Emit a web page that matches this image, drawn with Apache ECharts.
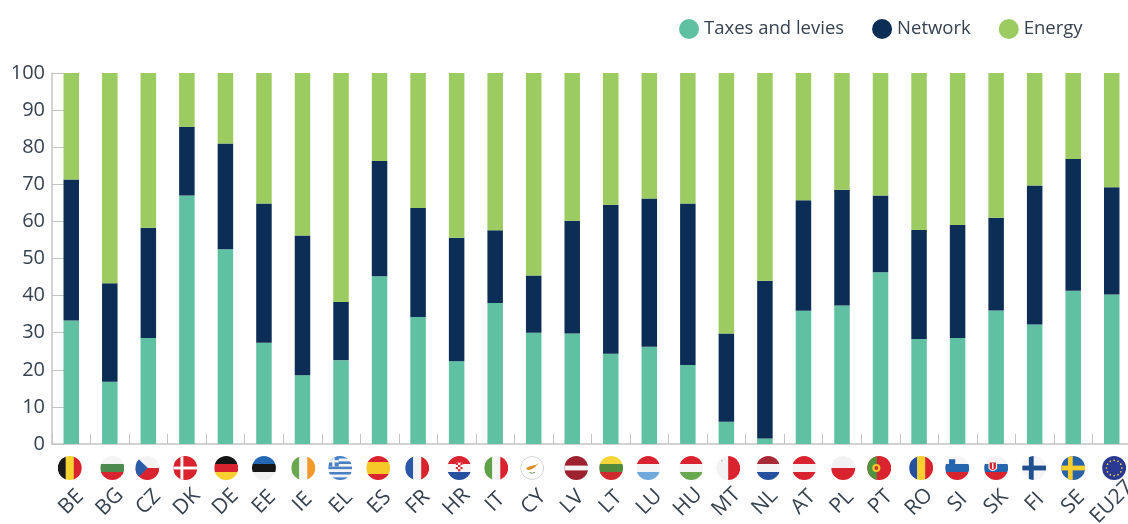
<!DOCTYPE html>
<html>
<head>
<meta charset="utf-8">
<script src="https://cdn.jsdelivr.net/npm/echarts@6/dist/echarts.min.js"></script>
<style>
  html, body { margin: 0; padding: 0; background: #fff; overflow: hidden; }
  #main { width: 1128px; height: 524px; }
</style>
</head>
<body>
<div id="main"></div>
<script>
const categories = ['BE', 'BG', 'CZ', 'DK', 'DE', 'EE', 'IE', 'EL', 'ES', 'FR', 'HR', 'IT', 'CY', 'LV', 'LT', 'LU', 'HU', 'MT', 'NL', 'AT', 'PL', 'PT', 'RO', 'SI', 'SK', 'FI', 'SE', 'EU27'];
const taxes = [33.3, 16.8, 28.6, 67.0, 52.5, 27.3, 18.5, 22.6, 45.2, 34.2, 22.3, 38.0, 30.0, 29.8, 24.3, 26.2, 21.3, 6.0, 1.5, 35.9, 37.3, 46.3, 28.3, 28.6, 36.0, 32.2, 41.3, 40.3];
const network = [38.0, 26.5, 29.7, 18.5, 28.5, 37.5, 37.7, 15.7, 31.1, 29.4, 33.3, 19.6, 15.4, 30.4, 40.2, 40.0, 43.5, 23.8, 42.5, 29.8, 31.2, 20.7, 29.4, 30.4, 25.0, 37.5, 35.5, 28.9];
const energy = [28.7, 56.7, 41.7, 14.5, 19.0, 35.2, 43.8, 61.7, 23.7, 36.4, 44.4, 42.4, 54.6, 39.8, 35.5, 33.8, 35.2, 70.2, 56.0, 34.3, 31.5, 33.0, 42.3, 41.0, 39.0, 30.3, 23.2, 30.8];

const FONT = '"Open Sans", "Noto Sans", sans-serif';
const TEXT = '#364250';
const AXIS = '#c4c4c4';
const RED = '#d9232e';

function hbars(colors) {
  const h = 100 / colors.length;
  return colors.map((c, i) => `<rect x="0" y="${i * h}" width="100" height="${h + 0.5}" fill="${c}"/>`).join('');
}
function vbars(colors) {
  const w = 100 / colors.length;
  return colors.map((c, i) => `<rect x="${i * w}" y="0" width="${w + 0.5}" height="100" fill="${c}"/>`).join('');
}
function nordic(bg, cross) {
  return `<rect width="100" height="100" fill="${bg}"/><rect x="28" width="20" height="100" fill="${cross}"/><rect y="40" width="100" height="20" fill="${cross}"/>`;
}

// 旗帜内容
const flagArt = {
  BE: vbars(['#1a1a1a', '#f6d330', RED]),
  BG: hbars(['#f4f4f4', '#4d8a4f', RED]),
  CZ: hbars(['#f4f4f4', RED]) + '<path d="M0 0 L52 50 L0 100 Z" fill="#2a5ca8"/>',
  DK: `<rect width="100" height="100" fill="${RED}"/><rect x="30" width="12" height="100" fill="#fff"/><rect y="44" width="100" height="12" fill="#fff"/>`,
  DE: hbars(['#161616', RED, '#f7cf2e']),
  EE: hbars(['#2468b4', '#161616', '#f1f1f1']),
  IE: vbars(['#6aa84f', '#f6f6f6', '#f39a2b']),
  EL: hbars(['#4a7fc4', '#f4f4f4', '#4a7fc4', '#f4f4f4', '#4a7fc4', '#f4f4f4', '#4a7fc4', '#f4f4f4', '#4a7fc4'])
    + '<rect width="44" height="44" fill="#4a7fc4"/><rect x="17" width="10" height="44" fill="#f4f4f4"/><rect y="17" width="44" height="10" fill="#f4f4f4"/>',
  ES: hbars([RED, '#f7c928', '#f7c928', RED]),
  FR: vbars(['#2a57a8', '#f4f4f4', RED]),
  HR: hbars([RED, '#f4f4f4', '#24509f'])
    + `<rect x="36" y="28" width="28" height="36" fill="#fff"/><rect x="36" y="28" width="9" height="9" fill="${RED}"/><rect x="55" y="28" width="9" height="9" fill="${RED}"/><rect x="45" y="37" width="10" height="9" fill="${RED}"/><rect x="36" y="46" width="9" height="9" fill="${RED}"/><rect x="55" y="46" width="9" height="9" fill="${RED}"/><rect x="45" y="55" width="10" height="9" fill="${RED}"/>`,
  IT: vbars(['#5fa04a', '#f4f4f4', RED]),
  CY: '<circle cx="50" cy="50" r="48" fill="#fff" stroke="#bdbdbd" stroke-width="3"/><path d="M24 50 L44 42 L66 36 L78 28 L62 46 L46 56 L32 58 Z" fill="#e08a1e"/><path d="M38 68 Q50 76 62 68" fill="none" stroke="#6b8f4e" stroke-width="4"/>',
  LV: `<rect width="100" height="100" fill="#9c2230"/><rect y="40" width="100" height="20" fill="#f4f4f4"/>`,
  LT: hbars(['#f5d63a', '#4f8a3e', '#cf2a2e']),
  LU: hbars([RED, '#f4f4f4', '#6fa8dc']),
  HU: hbars([RED, '#f4f4f4', '#6aa84f']),
  MT: vbars(['#f2f2f2', RED]) + '<rect x="20" y="16" width="7" height="7" fill="#c4c4c4"/>',
  NL: hbars(['#a82a36', '#f4f4f4', '#24509f']),
  AT: hbars([RED, '#f4f4f4', RED]),
  PL: hbars(['#f2f2f2', RED]),
  PT: `<rect width="100" height="100" fill="${RED}"/><rect width="40" height="100" fill="#4f9440"/><circle cx="38" cy="50" r="17" fill="#f2c62e"/><circle cx="38" cy="50" r="8" fill="#c8372d"/>`,
  RO: vbars(['#24509f', '#f7cf2e', RED]),
  SI: hbars(['#f4f4f4', '#2565ae', RED]) + '<path d="M16 14 H42 V32 Q29 46 16 32 Z" fill="#2565ae"/>',
  SK: hbars(['#f4f4f4', '#2565ae', RED]) + `<path d="M18 22 H54 V52 Q36 74 18 52 Z" fill="#f4f4f4"/><path d="M23 27 H49 V51 Q36 66 23 51 Z" fill="${RED}"/><rect x="33" y="30" width="6" height="24" fill="#fff"/>`,
  FI: nordic('#f4f4f4', '#1f4f8f'),
  SE: nordic('#2a62a8', '#f6cf2e'),
  EU27: '<rect width="100" height="100" fill="#2a3a94"/>' + [0, 1, 2, 3, 4, 5, 6, 7, 8, 9, 10, 11].map(i => {
    const a = i * Math.PI / 6;
    return `<circle cx="${50 + 32 * Math.cos(a)}" cy="${50 + 32 * Math.sin(a)}" r="3.5" fill="#f6d330"/>`;
  }).join('')
};

function flagImage(code) {
  const svg = `<svg xmlns="http://www.w3.org/2000/svg" width="100" height="100" viewBox="0 0 100 100"><defs><clipPath id="c"><circle cx="50" cy="50" r="50"/></clipPath></defs><g clip-path="url(#c)">${flagArt[code]}</g></svg>`;
  return 'image://data:image/svg+xml;charset=utf-8,' + encodeURIComponent(svg);
}

// 旗帜相对柱子中心的水平偏移
const flagNudge = [-1.5, 2.5, -1, -1.6, 0.8, 0, 0.8, -0.8, -1.3, -0.9, 2.6, 1.1, -1.5, 4, 0.4, -1.1, 3.4, 1.8, 3.3, 0.7, 1.2, -1.3, 2.1, -0.4, 0, -0.5, 0, 2.4];

const chart = echarts.init(document.getElementById('main'), null, { renderer: 'canvas' });

const option = {
  animation: false,
  backgroundColor: '#fff',
  textStyle: { fontFamily: FONT },
  legend: {
    data: ['Taxes and levies', 'Network', 'Energy'],
    left: 674,
    top: 14,
    icon: 'circle',
    itemWidth: 20,
    itemHeight: 20,
    itemGap: 28,
    textStyle: { fontFamily: FONT, fontSize: 18.5, color: TEXT }
  },
  grid: { left: 52, top: 73, width: 1079, height: 371, outerBoundsMode: 'none' },
  xAxis: {
    type: 'category',
    data: categories,
    boundaryGap: true,
    axisLine: { lineStyle: { color: AXIS, width: 1.5 } },
    axisTick: { show: true, alignWithLabel: false, inside: true, length: 10, lineStyle: { color: AXIS, width: 1 } },
    axisLabel: {
      interval: 0,
      rotate: 45,
      align: 'center',
      verticalAlign: 'middle',
      margin: 58,
      hideOverlap: false,
      fontFamily: FONT,
      fontSize: 21,
      color: TEXT
    }
  },
  yAxis: {
    type: 'value',
    min: 0,
    max: 100,
    interval: 10,
    splitLine: { show: false },
    axisLine: { show: true, lineStyle: { color: AXIS, width: 1.5 } },
    axisTick: { show: true, inside: true, length: 12, lineStyle: { color: AXIS, width: 1 } },
    axisLabel: { margin: 7, fontFamily: FONT, fontSize: 20, color: TEXT }
  },
  series: [
    { name: 'Taxes and levies', type: 'bar', stack: 'total', barWidth: 15.5, data: taxes, itemStyle: { color: '#5fc0a2' } },
    { name: 'Network', type: 'bar', stack: 'total', barWidth: 15.5, data: network, itemStyle: { color: '#0c2e56' } },
    { name: 'Energy', type: 'bar', stack: 'total', barWidth: 15.5, data: energy, itemStyle: { color: '#9bcb61' } },
    {
      name: 'Flags',
      type: 'scatter',
      clip: false,
      silent: true,
      symbolSize: 24,
      itemStyle: { opacity: 1 },
      data: categories.map((c, i) => ({
        value: [c, 0],
        symbol: flagImage(c),
        symbolOffset: [flagNudge[i], 24]
      }))
    }
  ]
};

chart.setOption(option);
</script>
</body>
</html>
